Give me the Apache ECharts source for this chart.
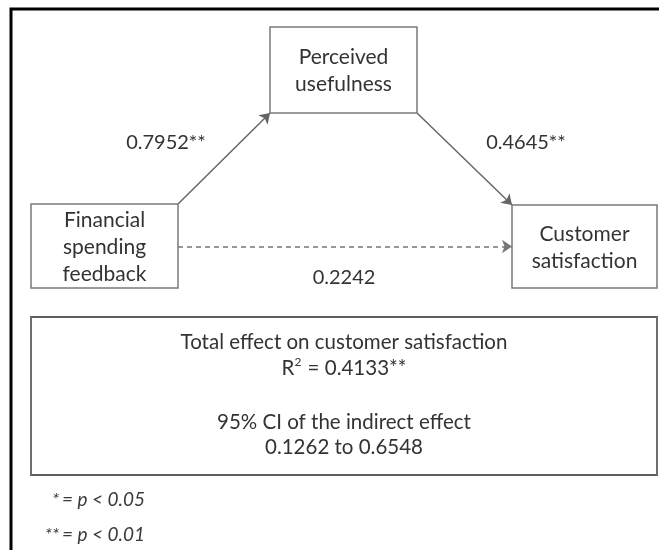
<!DOCTYPE html>
<html>
<head>
<meta charset="utf-8">
<script src="https://cdn.jsdelivr.net/npm/echarts@6/dist/echarts.min.js"></script>
<style>
html,body{margin:0;padding:0;background:#fff;}
#chart{width:659px;height:550px;}
</style>
</head>
<body>
<div id="chart"></div>
<script>
// ---- data ----
const nodeLabels = ['Perceived\nusefulness', 'Financial\nspending\nfeedback', 'Customer\nsatisfaction'];
const pathCoefficients = ['0.7952**', '0.4645**', '0.2242'];
const summaryLines = ['Total effect on customer satisfaction', 'R{sup|2} = 0.4133**', '', '95% CI of the indirect effect', '0.1262 to 0.6548'];
const footnoteStars = ['*', '**'];
const footnoteTexts = ['= p < 0.05', '= p < 0.01'];

// ---- layout (plot units = pixels of a 659x550 canvas) ----
const boxRects = [[270, 27, 417, 113], [31, 204, 178, 288], [512, 205, 657, 288]];
const summaryRect = [31, 317, 657, 475];
const edgeEnds = [
  [[178, 204], [270, 113]],
  [[417, 113], [512, 205]],
  [[178, 246.5], [512, 246.5]]
];
const coefPos = [[166, 143], [526, 143], [344, 278]];
const summaryY = [342, 368, 395, 422, 447];
const footY = [500, 535];

const FONT = 'Lato, "Noto Sans", sans-serif';
const TXT = '#333';

const chart = echarts.init(document.getElementById('chart'));

const option = {
  animation: false,
  grid: {left: 0, right: 0, top: 0, bottom: 0},
  xAxis: {type: 'value', min: 0, max: 659, show: false},
  yAxis: {type: 'value', min: 0, max: 550, inverse: true, show: false},
  series: [
    // outer frame
    {
      type: 'lines', coordinateSystem: 'cartesian2d', silent: true, symbol: 'none',
      lineStyle: {color: '#000', width: 3, opacity: 1},
      data: [
        {coords: [[11, 550], [11, 9], [659, 9]]}
      ],
      polyline: true, z: 1
    },
    // arrows
    {
      type: 'lines', coordinateSystem: 'cartesian2d', silent: true,
      symbol: ['none', 'arrow'], symbolSize: 10,
      lineStyle: {color: '#666', width: 1.5, opacity: 1},
      data: edgeEnds.map((e, i) => ({
        coords: e,
        lineStyle: i === 2 ? {type: [5, 4], color: '#777', width: 1.5} : {}
      })),
      z: 2
    },
    // boxes
    {
      type: 'custom', coordinateSystem: 'cartesian2d', silent: true,
      data: nodeLabels.map((l, i) => [i]),
      renderItem: function (params, api) {
        const i = api.value(0);
        const r = boxRects[i];
        const p1 = api.coord([r[0], r[1]]);
        const p2 = api.coord([r[2], r[3]]);
        return {
          type: 'group',
          children: [
            {type: 'rect', shape: {x: p1[0], y: p1[1], width: p2[0] - p1[0], height: p2[1] - p1[1]},
             style: {fill: '#fff', stroke: '#7a7a7a', lineWidth: 1.5}},
            {type: 'text', style: {text: nodeLabels[i], x: (p1[0] + p2[0]) / 2, y: (p1[1] + p2[1]) / 2 + 1,
             align: 'center', verticalAlign: 'middle', fill: TXT, font: '400 21px ' + FONT, lineHeight: 27}}
          ]
        };
      },
      z: 3
    },
    // coefficients
    {
      type: 'custom', coordinateSystem: 'cartesian2d', silent: true,
      data: pathCoefficients.map((c, i) => [coefPos[i][0], coefPos[i][1], i]),
      renderItem: function (params, api) {
        const p = api.coord([api.value(0), api.value(1)]);
        return {type: 'text', style: {text: pathCoefficients[api.value(2)], x: p[0], y: p[1],
          align: 'center', verticalAlign: 'middle', fill: TXT, font: '400 20px ' + FONT}};
      },
      z: 4
    },
    // summary box
    {
      type: 'custom', coordinateSystem: 'cartesian2d', silent: true,
      data: [[0]],
      renderItem: function (params, api) {
        const p1 = api.coord([summaryRect[0], summaryRect[1]]);
        const p2 = api.coord([summaryRect[2], summaryRect[3]]);
        const cx = (p1[0] + p2[0]) / 2;
        const children = [
          {type: 'rect', shape: {x: p1[0], y: p1[1], width: p2[0] - p1[0], height: p2[1] - p1[1]},
           style: {fill: '#fff', stroke: '#5f5f5f', lineWidth: 1.8}}
        ];
        summaryLines.forEach((t, k) => {
          if (!t) return;
          children.push({type: 'text', style: {text: t, x: cx, y: api.coord([0, summaryY[k]])[1],
            align: 'center', verticalAlign: 'middle', fill: TXT, font: '400 20.5px ' + FONT,
            rich: {sup: {fontSize: 12, fontFamily: FONT, fill: TXT, verticalAlign: 'top', padding: [0, 1, 12, 0]}}}});
        });
        return {type: 'group', children: children};
      },
      z: 3
    },
    // footnotes
    {
      type: 'custom', coordinateSystem: 'cartesian2d', silent: true,
      data: footnoteStars.map((s, i) => [i]),
      renderItem: function (params, api) {
        const i = api.value(0);
        const y = api.coord([0, footY[i]])[1];
        const xs = api.coord([59, 0])[0];
        const xt = api.coord([62, 0])[0];
        return {
          type: 'group',
          children: [
            {type: 'text', style: {text: footnoteStars[i], x: xs, y: y, align: 'right', verticalAlign: 'middle',
              fill: '#3a3a3a', font: 'italic 400 18px ' + FONT}},
            {type: 'text', style: {text: footnoteTexts[i], x: xt, y: y, align: 'left', verticalAlign: 'middle',
              fill: '#3a3a3a', font: 'italic 400 19px ' + FONT}}
          ]
        };
      },
      z: 3
    }
  ]
};
chart.setOption(option);
</script>
</body>
</html>
